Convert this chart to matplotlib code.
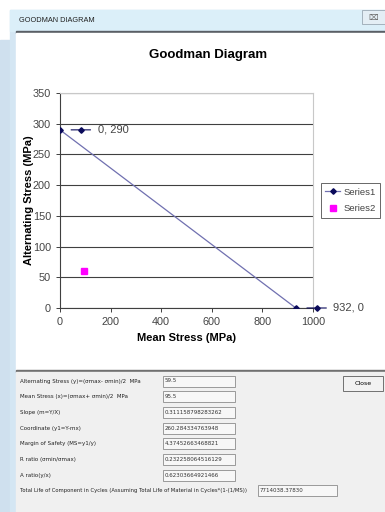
import numpy as np
import matplotlib.pyplot as plt
from matplotlib.patches import Rectangle
from matplotlib.transforms import offset_copy

# Data Goodman diagram
mean_line = [0, 932]
alt_line = [290, 0]
mean_pt = [95.5]
alt_pt = [59.5]
pt_labels = ["0, 290", "932, 0"]

x_ticks = [0, 200, 400, 600, 800, 1000]
y_ticks = [0, 50, 100, 150, 200, 250, 300, 350]

form_labels = [
    "Alternating Stress (y)=(\u03c3max- \u03c3min)/2  MPa",
    "Mean Stress (x)=(\u03c3max+ \u03c3min)/2  MPa",
    "Slope (m=Y/X)",
    "Coordinate (y1=Y-mx)",
    "Margin of Safety (MS=y1/y)",
    "R ratio (\u03c3min/\u03c3max)",
    "A ratio(y/x)",
]
form_values = [
    "59.5",
    "95.5",
    "0.311158798283262",
    "260.284334763948",
    "4.37452663468821",
    "0.232258064516129",
    "0.62303664921466",
]
life_label = "Total Life of Component in Cycles (Assuming Total Life of Material in Cycles*(1-(1/MS))"
life_value = "7714038.37830"

W, H = 385, 512
fig = plt.figure(figsize=(W / 100, H / 100), dpi=100)

# latar belakang jendela (koordinat piksel)
bg = fig.add_axes([0, 0, 1, 1])
bg.set_xlim(0, W)
bg.set_ylim(H, 0)
bg.axis("off")

bg.add_patch(Rectangle((0, 0), W, H, color="white"))
bg.add_patch(Rectangle((0, 40), 10, 472, color="#cfe0ee"))
bg.add_patch(Rectangle((10, 10), W - 10, 502, color="#d4e6f3"))
bg.add_patch(Rectangle((10, 10), W - 10, 21, color="#dbeff9"))
bg.add_patch(Rectangle((16, 31), W - 16, 2, color="#5a5f66"))
bg.add_patch(Rectangle((16, 33), W - 16, 338, color="white"))
bg.add_patch(Rectangle((16, 370), W - 16, 1.5, color="#707070"))
bg.add_patch(Rectangle((16, 372), W - 16, 140, color="#f0f0f0"))
bg.text(19, 20, "GOODMAN DIAGRAM", fontsize=5.3, family="Liberation Sans",
        color="#222222", va="center")
bg.add_patch(Rectangle((362, 10), 24, 14, facecolor="#e4eef5",
                       edgecolor="#9aa8b4", lw=0.6))
bg.text(373, 17, "\u2327", fontsize=6, color="#666666", ha="center", va="center")

bg.text(208, 55, "Goodman Diagram", fontsize=9.5, fontweight="bold",
        family="Liberation Sans", ha="center", va="center")

# form di bawah grafik
row_y = 381
for lab, val in zip(form_labels, form_values):
    bg.text(20, row_y, lab, fontsize=4.0, color="#222222", va="center")
    bg.add_patch(Rectangle((163, row_y - 5.5), 72, 11, facecolor="#f7f7f7",
                           edgecolor="#8c8c8c", lw=0.6))
    bg.text(165, row_y, val, fontsize=4.0, color="#333333", va="center")
    row_y += 15.7
bg.text(20, row_y, life_label, fontsize=3.8, color="#222222", va="center")
bg.add_patch(Rectangle((258, row_y - 5.5), 79, 11, facecolor="#f7f7f7",
                       edgecolor="#8c8c8c", lw=0.6))
bg.text(260, row_y, life_value, fontsize=4.0, color="#333333", va="center")

bg.add_patch(Rectangle((343, 376), 40, 15, facecolor="#f2f2f2",
                       edgecolor="#707070", lw=0.7))
bg.text(363, 383.5, "Close", fontsize=4.5, ha="center", va="center")

# area plot
ax = fig.add_axes([60 / W, 1 - 308 / H, 253 / W, 215 / H])
ax.plot(mean_line, alt_line, color="#7070b0", lw=0.9, marker="D", ms=2.8,
        mfc="#0a0a5a", mec="#0a0a5a", label="Series1", zorder=3)
ax.plot(mean_pt, alt_pt, ls="none", marker="s", ms=4, color="#ff00ff",
        label="Series2", zorder=3)
ax.set_xlim(0, 1000)
ax.set_ylim(0, 350)
ax.set_xticks(x_ticks)
ax.set_yticks(y_ticks)
ax.grid(axis="y", color="#404040", lw=0.8)
ax.set_axisbelow(True)
for s in ["top", "right"]:
    ax.spines[s].set_color("#c8c8c8")
ax.spines["left"].set_color("#404040")
ax.spines["bottom"].set_color("#404040")
ax.tick_params(direction="out", length=3, width=0.7, colors="#404040",
               labelsize=7.8, labelcolor="#444444")
for t in ax.get_xticklabels() + ax.get_yticklabels():
    t.set_family("Liberation Sans")
ax.set_xlabel("Mean Stress (MPa)", fontsize=8, fontweight="bold",
              family="Liberation Sans", labelpad=4)
ax.set_ylabel("Alternating Stress (MPa)", fontsize=8, fontweight="bold",
              family="Liberation Sans", labelpad=-1)

# label data dengan kunci legenda
for xv, yv, lab in zip(mean_line, alt_line, pt_labels):
    tr_key = offset_copy(ax.transData, fig=fig, x=15, y=0, units="points")
    ax.plot([xv], [yv], transform=tr_key, marker="D", ms=2.8,
            color="#0a0a5a", clip_on=False)
    ax.annotate(lab, xy=(xv, yv), xytext=(27, 0), textcoords="offset points",
                fontsize=8, family="Liberation Sans", color="#444444",
                va="center", annotation_clip=False)
    ax.annotate("", xy=(xv, yv), xytext=(xv, yv),
                xycoords=offset_copy(ax.transData, fig=fig, x=22, y=0, units="points"),
                textcoords=offset_copy(ax.transData, fig=fig, x=8, y=0, units="points"),
                arrowprops=dict(arrowstyle="-", color="#0a0a5a", lw=0.8,
                                shrinkA=0, shrinkB=0),
                annotation_clip=False)

leg = ax.legend(loc="center left", bbox_to_anchor=(1.03, 0.5),
                frameon=True, fancybox=False, edgecolor="#404040",
                borderpad=0.5, borderaxespad=0, handlelength=1.6,
                handletextpad=0.3, labelspacing=0.8,
                prop={"family": "Liberation Sans", "size": 6.8})
leg.get_frame().set_linewidth(0.7)
for t in leg.get_texts():
    t.set_color("#444444")

fig.savefig("out.png", dpi=100)
